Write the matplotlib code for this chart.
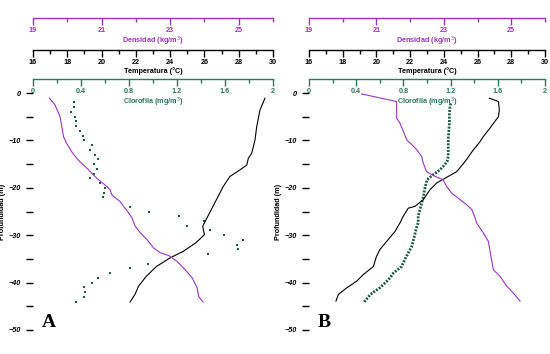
import numpy as np
import matplotlib.pyplot as plt
from matplotlib.ticker import MultipleLocator
plt.switch_backend('Agg')

plt.rcParams['font.family'] = ['Liberation Sans', 'DejaVu Sans']

PURPLE = '#9a35c4'
GREEN = '#2a7a5c'
DOT = '#1d5a40'

# panel A
a_chl_depth = [-2, -3, -4, -5, -6, -7, -8, -9, -10, -11, -12, -13, -14, -15, -16, -17, -18, -19, -20, -21,
               -22, -24, -25, -26, -27, -28, -29, -30, -31, -32, -33, -34, -36, -37, -38, -39, -40, -41, -42,
               -43, -44]
a_chl = [0.34, 0.34, 0.32, 0.35, 0.36, 0.36, 0.39, 0.42, 0.425, 0.49, 0.475, 0.52, 0.545, 0.51, 0.53, 0.51,
         0.475, 0.56, 0.60, 0.59, 0.58, 0.81, 0.97, 1.22, 1.425, 1.28, 1.475, 1.59, 1.75, 1.70, 1.71, 1.46,
         0.96, 0.81, 0.64, 0.545, 0.49, 0.425, 0.43, 0.425, 0.36]
a_t_depth = [-1.1, -3.6, -7.1, -9.9, -12.7, -13.8, -15.2, -16.2, -17.6, -19.7, -22.5, -24.6, -26.7, -28.1,
             -29.9, -31.6, -33.4, -34.8, -36.6, -38.7, -40.8, -42.5, -44.1]
a_temp = [29.53, 29.24, 29.05, 28.95, 28.76, 28.56, 28.47, 28.08, 27.49, 27.10, 26.70, 26.40, 26.10, 25.90,
          26.00, 25.50, 24.77, 23.99, 23.20, 22.60, 22.15, 21.95, 21.66]
a_d_depth = [-1.1, -2.5, -5.0, -7.1, -9.2, -10.6, -12.4, -13.8, -14.5, -16.2, -18.0, -19.7, -20.4, -21.5,
             -22.9, -23.9, -25.3, -26.4, -28.1, -29.5, -30.9, -32.7, -33.7, -34.3, -35.5, -37.3, -39.0,
             -41.1, -42.9, -44.1]
a_dens = [19.48, 19.64, 19.79, 19.84, 19.89, 19.98, 20.13, 20.28, 20.37, 20.62, 20.86, 21.15, 21.25, 21.30,
          21.54, 21.64, 21.79, 21.89, 21.98, 22.13, 22.32, 22.52, 22.71, 22.96, 23.20, 23.44, 23.64, 23.79,
          23.83, 23.96]

# panel B
b_chl_depth = [-2.2, -2.9, -4.5, -6.4, -8.0, -9.9, -11.5, -13.4, -14.5, -15.4, -16.2, -17.3, -18.3, -19.3,
               -20.4, -21.8, -23.2, -24.6, -26.0, -27.4, -28.5, -29.5, -31.0, -32.4, -33.8, -35.2, -36.6,
               -37.3, -38.0, -38.9, -39.7, -40.4, -41.1, -41.8, -42.5, -43.4, -44.3]
b_chl = [1.20, 1.195, 1.19, 1.19, 1.185, 1.18, 1.18, 1.18, 1.17, 1.14, 1.11, 1.05, 1.00, 0.99, 0.98, 0.97,
         0.955, 0.94, 0.925, 0.925, 0.91, 0.90, 0.885, 0.87, 0.84, 0.81, 0.785, 0.75, 0.715, 0.69, 0.66,
         0.63, 0.60, 0.56, 0.52, 0.49, 0.46]
b_t_depth = [-1.1, -1.8, -3.6, -5.0, -6.4, -7.4, -9.2, -10.3, -12.0, -14.5, -16.6, -17.8, -19.0, -20.4,
             -22.5, -23.9, -24.3, -26.0, -27.4, -29.2, -31.3, -33.0, -34.5, -36.6, -38.3, -39.7, -41.1,
             -42.5, -43.9]
b_temp = [26.70, 27.24, 27.29, 27.24, 26.94, 26.74, 26.34, 26.14, 25.75, 25.25, 24.76, 24.16, 23.57, 23.18,
          22.78, 22.29, 21.89, 21.59, 21.40, 21.10, 20.61, 20.21, 20.00, 19.82, 19.22, 18.83, 18.24, 17.74,
          17.60]
b_d_depth = [-0.2, -1.8, -5.3, -6.4, -8.1, -9.9, -10.9, -12.0, -13.4, -14.8, -16.6, -17.6, -18.3, -19.7,
             -21.1, -22.5, -23.6, -24.6, -26.4, -27.4, -29.5, -31.3, -33.4, -37.3, -38.7, -40.8, -42.2, -43.9]
b_dens = [20.56, 21.60, 21.60, 21.70, 21.80, 21.90, 22.05, 22.20, 22.34, 22.39, 22.49, 22.74, 22.98, 23.08,
          23.23, 23.48, 23.68, 23.83, 23.93, 23.97, 24.17, 24.32, 24.37, 24.47, 24.67, 24.87, 25.06, 25.26]

depth_ticks = [0, -10, -20, -30, -40, -50]
chl_ticks = [0, 0.4, 0.8, 1.2, 1.6, 2]
chl_labels = ['0', '0.4', '0.8', '1.2', '1.6', '2']
temp_ticks = [16, 18, 20, 22, 24, 26, 28, 30]
dens_ticks = [19, 21, 23, 25]

W, H = 550, 354
fig = plt.figure(figsize=(5.5, 3.54), dpi=100)

FS = 5.2


def top_axis(ax, pos, color, lim, major, minor, labels, title):
    ax.set_xlim(*lim)
    for s in ['top', 'right', 'left']:
        ax.spines[s].set_visible(False)
    ax.spines['bottom'].set_position(('axes', pos))
    ax.spines['bottom'].set_color(color)
    ax.spines['bottom'].set_linewidth(1.0)
    ax.xaxis.set_ticks_position('bottom')
    ax.xaxis.set_label_position('bottom')
    ax.set_xticks(major)
    ax.set_xticklabels(labels)
    ax.xaxis.set_minor_locator(MultipleLocator(minor))
    ax.tick_params(axis='x', which='major', direction='out', length=5, width=1.0, color=color,
                   labelcolor=color, labelsize=FS, pad=1.5)
    ax.tick_params(axis='x', which='minor', direction='out', length=3, width=1.0, color=color)
    for t in ax.get_xticklabels():
        t.set_fontweight('bold')
    ax.set_xlabel(title, color=color, fontsize=FS, fontweight='bold', labelpad=0.5)


def panel(left_px, right_px, chl_d, chl, t_d, temp, d_d, dens, letter, dense):
    bottom_px, top_px = 330, 93
    w_px = right_px - left_px
    ax = fig.add_axes([left_px / W, (H - bottom_px) / H, w_px / W, (bottom_px - top_px) / H])
    ax.set_ylim(-50, 0)
    ax.patch.set_alpha(0)
    top_axis(ax, 1.059, GREEN, (0, 2), chl_ticks, 0.2, chl_labels, 'Clorofila (mg/m$^3$)')
    ax.spines['left'].set_linewidth(1.0)
    ax.set_yticks(depth_ticks)
    ax.yaxis.set_minor_locator(MultipleLocator(5))
    ax.tick_params(axis='y', which='major', length=5, width=1.0, labelsize=FS, pad=4)
    ax.tick_params(axis='y', which='minor', length=5, width=1.0)
    for t in ax.get_yticklabels():
        t.set_fontweight('bold')
        t.set_fontstyle('italic')
    ax.set_ylabel('Profundidad (m)', fontsize=FS, fontweight='bold')
    ax.yaxis.set_label_coords(-27 / w_px, 0.5)

    if dense:
        ax.plot(chl, chl_d, color=DOT, lw=2.0, ls=(0, (0.7, 0.5)), zorder=3)
    else:
        ax.plot(chl, chl_d, 's', color=DOT, ms=1.8, mew=0, zorder=3)

    axt = ax.twiny()
    axt.patch.set_alpha(0)
    top_axis(axt, 1.181, 'black', (16, 30), temp_ticks, 1, [str(v) for v in temp_ticks],
             'Temperatura (\u00b0C)')
    axt.plot(temp, t_d, color='black', lw=0.8)

    axd = ax.twiny()
    axd.patch.set_alpha(0)
    top_axis(axd, 1.316, PURPLE, (19, 26), dens_ticks, 1, [str(v) for v in dens_ticks],
             'Densidad (kg/m$^3$)')
    axd.plot(dens, d_d, color=PURPLE, lw=0.8)

    ax.text(0.035, 0.012, letter, transform=ax.transAxes, fontsize=14, fontweight='bold',
            family='Liberation Serif', ha='left', va='baseline')


panel(33, 273, a_chl_depth, a_chl, a_t_depth, a_temp, a_d_depth, a_dens, 'A', False)
panel(309, 545, b_chl_depth, b_chl, b_t_depth, b_temp, b_d_depth, b_dens, 'B', True)

fig.savefig('out.png', dpi=100)
